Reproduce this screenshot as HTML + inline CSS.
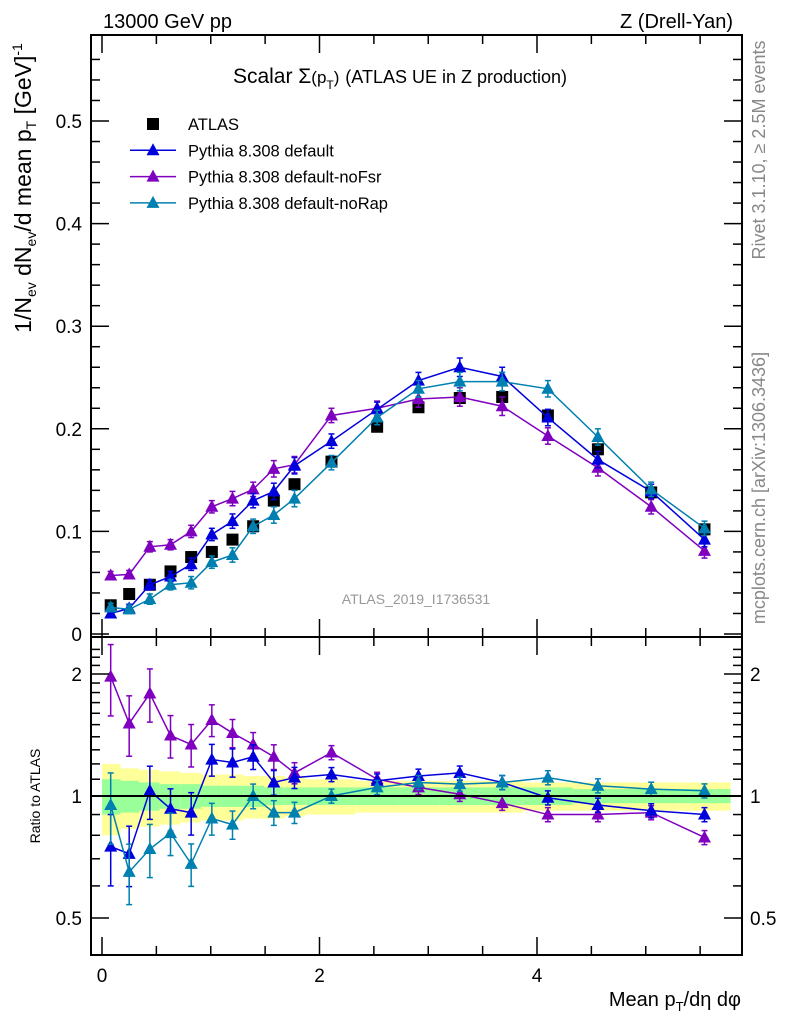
<!DOCTYPE html>
<html><head><meta charset="utf-8"><style>
body{margin:0;background:#fff}
svg{display:block;font-family:"Liberation Sans",sans-serif}
</style></head><body>
<svg id="c" width="786" height="1024" viewBox="0 0 786 1024">
<rect width="786" height="1024" fill="#fff"/>
<g id="bands"></g>
<g id="marks"></g>
<g id="axes" stroke="#000" fill="none" stroke-width="1.5"></g>
<rect x="91" y="35" width="651" height="602" fill="none" stroke="#000" stroke-width="2"/>
<rect x="91" y="637" width="651" height="318" fill="none" stroke="#000" stroke-width="2"/>
<line x1="91" y1="796" x2="742" y2="796" stroke="#000" stroke-width="2"/>
<text x="103" y="28" font-size="20">13000 GeV pp</text>
<text x="733" y="28" font-size="20" text-anchor="end">Z (Drell-Yan)</text>
<text x="400" y="83" font-size="21" text-anchor="middle">Scalar Σ<tspan font-size="17">(p</tspan><tspan font-size="12" dy="6">T</tspan><tspan font-size="17" dy="-6">)</tspan> <tspan font-size="18">(ATLAS UE in Z production)</tspan></text>
<text transform="translate(31,188) rotate(-90)" font-size="23" text-anchor="middle">1/N<tspan font-size="14" dy="5">ev</tspan><tspan dy="-5"> dN</tspan><tspan font-size="14" dy="5">ev</tspan><tspan dy="-5">/d mean p</tspan><tspan font-size="14" dy="5">T</tspan><tspan dy="-5"> [GeV]</tspan><tspan font-size="14" dy="-9">-1</tspan></text>
<text transform="translate(765,150) rotate(-90)" font-size="18" fill="#888" text-anchor="middle">Rivet 3.1.10, ≥ 2.5M events</text>
<text transform="translate(765,488) rotate(-90)" font-size="18" fill="#888" text-anchor="middle">mcplots.cern.ch [arXiv:1306.3436]</text>
<text x="416" y="604" font-size="14" fill="#999" text-anchor="middle">ATLAS_2019_I1736531</text>
<text transform="translate(40,796) rotate(-90)" font-size="14" text-anchor="middle">Ratio to ATLAS</text>
<text x="741" y="1006" font-size="20" text-anchor="end">Mean p<tspan font-size="13" dy="5">T</tspan><tspan dy="-5">/dη dφ</tspan></text>
<g id="legend" font-size="16"></g>
</svg>
<script>
const xs=[0.08,0.25,0.44,0.63,0.82,1.01,1.20,1.39,1.58,1.77,2.11,2.53,2.91,3.29,3.68,4.10,4.56,5.05,5.54];
const binEdges=[0,0.17,0.34,0.53,0.72,0.91,1.1,1.3,1.49,1.68,1.87,2.33,2.73,3.1,3.49,3.87,4.33,4.8,5.3,5.78];
const atlas=[0.028,0.039,0.048,0.061,0.075,0.080,0.092,0.105,0.130,0.146,0.168,0.202,0.221,0.230,0.231,0.213,0.180,0.138,0.102];
const pyDefault=[0.020,0.025,0.048,0.056,0.068,0.097,0.110,0.130,0.139,0.164,0.188,0.219,0.247,0.260,0.251,0.211,0.170,0.139,0.092];
const pyNoFsr=[0.057,0.058,0.085,0.087,0.100,0.124,0.132,0.141,0.161,0.165,0.213,0.220,0.229,0.231,0.222,0.193,0.162,0.124,0.081];
const pyNoRap=[0.026,0.024,0.034,0.048,0.050,0.070,0.077,0.105,0.116,0.132,0.167,0.211,0.239,0.246,0.246,0.239,0.192,0.141,0.103];
const rDefault=[0.75,0.72,1.03,0.93,0.91,1.23,1.21,1.25,1.08,1.11,1.13,1.09,1.12,1.14,1.08,0.99,0.95,0.92,0.90];
const rNoFsr=[1.97,1.51,1.79,1.41,1.34,1.54,1.43,1.34,1.25,1.14,1.28,1.10,1.05,1.01,0.96,0.90,0.90,0.91,0.79];
const rNoRap=[0.95,0.65,0.74,0.81,0.68,0.88,0.85,1.00,0.91,0.91,1.00,1.05,1.08,1.07,1.08,1.11,1.06,1.04,1.03];
const mainErr=[0.004,0.004,0.005,0.005,0.006,0.006,0.007,0.007,0.008,0.008,0.007,0.007,0.008,0.009,0.009,0.008,0.008,0.007,0.007];
const ratioErr=[0.2,0.17,0.15,0.12,0.12,0.09,0.08,0.07,0.07,0.06,0.04,0.04,0.04,0.04,0.04,0.04,0.04,0.04,0.04];
const yellow=[0.2,0.17,0.16,0.15,0.14,0.13,0.13,0.12,0.12,0.11,0.10,0.09,0.09,0.09,0.09,0.08,0.08,0.08,0.08];
const green=[0.1,0.09,0.08,0.07,0.07,0.06,0.06,0.06,0.05,0.05,0.05,0.05,0.05,0.05,0.05,0.05,0.04,0.04,0.04];
const yTicks=[0,0.1,0.2,0.3,0.4,0.5];
const yTickLabels=["0","0.1","0.2","0.3","0.4","0.5"];
const xTicks=[0,2,4];
const rTicks=[0.5,1,2];

const NS="http://www.w3.org/2000/svg";
const X=v=>102+v*108.75;
const Y=v=>634-v*1026;
const R=v=>796-122*Math.log2(v);
function mk(tag,attrs,parent){const e=document.createElementNS(NS,tag);for(const k in attrs)e.setAttribute(k,attrs[k]);parent.appendChild(e);return e;}
const bands=document.getElementById('bands'),marks=document.getElementById('marks'),axes=document.getElementById('axes');
const svg=document.getElementById('c');

for(let i=0;i<xs.length;i++){
  const x1=X(binEdges[i]),x2=X(binEdges[i+1]);
  const yb=mk('rect',{x:x1,y:R(1+yellow[i]),width:x2-x1,height:R(1-yellow[i])-R(1+yellow[i]),fill:'#ffff99'},bands);
  
  
  const gb=mk('rect',{x:x1,y:R(1+green[i]),width:x2-x1,height:R(1-green[i])-R(1+green[i]),fill:'#99ff99'},bands);
  
  
}

function tri(g,cx,cy,col){const p=mk('polygon',{points:`${cx},${cy-7} ${cx-6.5},${cy+5} ${cx+6.5},${cy+5}`,fill:col},g);return p;}
function series(vals,err,col,name,Yf,isRatio){
  const g=mk('g',{},marks);
  
  
  const pts=xs.map((x,i)=>X(x)+','+Yf(vals[i])).join(' ');
  mk('polyline',{points:pts,fill:'none',stroke:col,'stroke-width':1.5},g);
  xs.forEach((x,i)=>{
    const cx=X(x),e=isRatio?err[i]*vals[i]:err[i];
    const t=Yf(vals[i]+e),b=Yf(Math.max(vals[i]-e,0.01));
    mk('line',{x1:cx,y1:t,x2:cx,y2:b,stroke:col,'stroke-width':1.5},g);
    mk('line',{x1:cx-3,y1:t,x2:cx+3,y2:t,stroke:col,'stroke-width':1.5},g);
    mk('line',{x1:cx-3,y1:b,x2:cx+3,y2:b,stroke:col,'stroke-width':1.5},g);
    const p=tri(g,cx,Yf(vals[i]),col);
    
    
  });
}
const cols={def:'#0000dd',fsr:'#7f00bf',rap:'#0080b0'};
const ga=mk('g',{},marks);


xs.forEach((x,i)=>{const r=mk('rect',{x:X(x)-6,y:Y(atlas[i])-6,width:12,height:12,fill:'#000'},ga);
  
  });
series(pyNoFsr,mainErr,cols.fsr,'pythia-nofsr-series',Y,false);
series(pyDefault,mainErr,cols.def,'pythia-default-series',Y,false);
series(pyNoRap,mainErr,cols.rap,'pythia-norap-series',Y,false);
series(rNoFsr,ratioErr,cols.fsr,'ratio-nofsr-series',R,true);
series(rDefault,ratioErr,cols.def,'ratio-default-series',R,true);
series(rNoRap,ratioErr,cols.rap,'ratio-norap-series',R,true);

function tick(x1,y1,x2,y2){mk('line',{x1,y1,x2,y2},axes);}
for(let v=0;v<=0.58;v+=0.02){const y=Y(v);if(y<36)break;const major=Math.abs(v*10-Math.round(v*10))<1e-6;const L=major?18:9;tick(91,y,91+L,y);tick(742,y,742-L,y);}
yTicks.forEach((v,i)=>{const t=mk('text',{x:82,y:Y(v)+7,'font-size':19,'text-anchor':'end',fill:'#000',stroke:'none'},svg);t.textContent=yTickLabels[i];
  
  });
for(let v=0;v<=5.9;v+=0.5){const x=X(v);const major=Math.abs(v%2)<1e-6;const L=major?18:9;
  tick(x,637,x,637-L);tick(x,35,x,35+L);tick(x,955,x,955-L);tick(x,637,x,637+L);}
xTicks.forEach(v=>{const t=mk('text',{x:X(v),y:982,'font-size':19,'text-anchor':'middle',fill:'#000'},svg);t.textContent=String(v);
  
  });
for(let v=0.4;v<=2.31;v+=0.1){const y=R(v);if(y<638||y>954)continue;const major=rTicks.some(t=>Math.abs(t-v)<1e-6);const L=major?18:9;tick(91,y,91+L,y);tick(742,y,742-L,y);}
rTicks.forEach(v=>{
  const t=mk('text',{x:82,y:R(v)+7,'font-size':19,'text-anchor':'end',fill:'#000'},svg);t.textContent=String(v);
  
  
  const t2=mk('text',{x:750,y:R(v)+7,'font-size':19,fill:'#000'},svg);t2.textContent=String(v);
  
  
});

const lg=document.getElementById('legend');
const names=['ATLAS','Pythia 8.308 default','Pythia 8.308 default-noFsr','Pythia 8.308 default-noRap'];
const lcols=['#000',cols.def,cols.fsr,cols.rap];
names.forEach((n,i)=>{
  const y=124+i*26.3;
  const g=mk('g',{},lg);
  
  
  if(i===0){mk('rect',{x:147,y:y-6,width:12,height:12,fill:'#000'},g);}
  else{mk('line',{x1:130,y1:y,x2:176,y2:y,stroke:lcols[i],'stroke-width':1.5},g);tri(g,153,y,lcols[i]);}
  const t=mk('text',{x:188,y:y+6,'font-size':16.5,fill:'#000'},g);t.textContent=n;
});
</script>
</body></html>
